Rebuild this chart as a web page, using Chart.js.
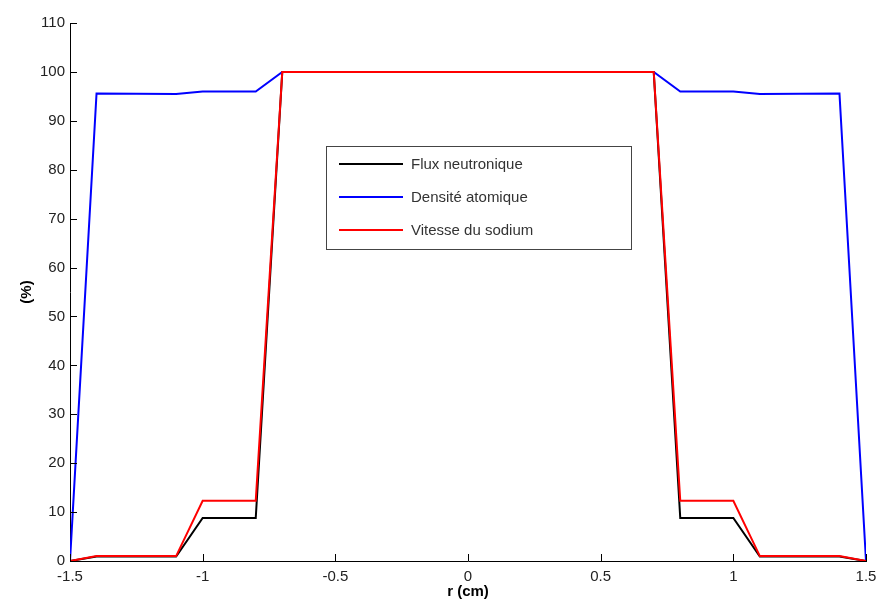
<!DOCTYPE html>
<html>
<head>
<meta charset="utf-8">
<script src="https://cdn.jsdelivr.net/npm/chart.js@4/dist/chart.umd.min.js"></script>
<style>
  html, body { margin: 0; padding: 0; background: #fff; }
  #wrap { width: 876px; height: 605px; }
</style>
</head>
<body>
<div id="wrap"><canvas id="chart" width="876" height="605"></canvas></div>
<script>
// radius positions (cm)
const rValues = [-1.5, -1.4, -1.1, -1.0, -0.8, -0.7, 0.7, 0.8, 1.0, 1.1, 1.4, 1.5];

// series (%)
const fluxNeutronique = [0, 0.9, 0.9, 8.8, 8.8, 100, 100, 8.8, 8.8, 0.9, 0.9, 0];
const densiteAtomique = [0, 95.6, 95.5, 96.0, 96.0, 100, 100, 96.0, 96.0, 95.5, 95.6, 0];
const vitesseSodium   = [0, 1.0, 1.0, 12.3, 12.3, 100, 100, 12.3, 12.3, 1.0, 1.0, 0];

const seriesLabels = ['Flux neutronique', 'Densité atomique', 'Vitesse du sodium'];
const seriesColors = ['#000000', '#0000ff', '#ff0000'];

const xTickValues = [-1.5, -1, -0.5, 0, 0.5, 1, 1.5];
const yTickValues = [0, 10, 20, 30, 40, 50, 60, 70, 80, 90, 100, 110];

const FONT = '"Liberation Sans", Arial, Helvetica, sans-serif';

function toPoints(ys) {
    return rValues.map((x, i) => ({ x: x, y: ys[i] }));
}

// inward ticks, axis titles and the boxed legend inside the plot
const matlabDecor = {
    id: 'matlabDecor',
    afterDraw(chart) {
        const ctx = chart.ctx;
        const xs = chart.scales.x;
        const ys = chart.scales.y;
        const area = chart.chartArea;

        ctx.save();
        ctx.strokeStyle = '#000';
        ctx.lineWidth = 1;
        ctx.beginPath();
        xTickValues.forEach(v => {
            const px = Math.round(xs.getPixelForValue(v)) + 0.5;
            ctx.moveTo(px, area.bottom);
            ctx.lineTo(px, area.bottom - 7);
        });
        yTickValues.forEach(v => {
            const py = Math.round(ys.getPixelForValue(v)) + 0.5;
            ctx.moveTo(area.left, py);
            ctx.lineTo(area.left + 7, py);
        });
        ctx.stroke();

        // axis titles
        ctx.fillStyle = '#000';
        ctx.font = 'bold 15px ' + FONT;
        ctx.textAlign = 'center';
        ctx.textBaseline = 'middle';
        ctx.fillText('r (cm)', (area.left + area.right) / 2, 592);
        ctx.save();
        ctx.translate(27, (area.top + area.bottom) / 2);
        ctx.rotate(-Math.PI / 2);
        ctx.fillText('(%)', 0, 0);
        ctx.restore();

        // legend box
        const lx = 326.5, ly = 146.5, lw = 305, lh = 103;
        ctx.fillStyle = '#fff';
        ctx.fillRect(lx, ly, lw, lh);
        ctx.strokeStyle = '#444';
        ctx.strokeRect(lx, ly, lw, lh);
        ctx.font = '15px ' + FONT;
        ctx.textAlign = 'left';
        chart.data.datasets.forEach((ds, i) => {
            const y = 164 + i * 33;
            ctx.strokeStyle = ds.borderColor;
            ctx.lineWidth = 2;
            ctx.beginPath();
            ctx.moveTo(339, y);
            ctx.lineTo(403, y);
            ctx.stroke();
            ctx.fillStyle = '#333';
            ctx.fillText(ds.label, 411, y + 1);
        });
        ctx.restore();
    }
};

const datasets = [fluxNeutronique, densiteAtomique, vitesseSodium].map((ys, i) => ({
    label: seriesLabels[i],
    data: toPoints(ys),
    borderColor: seriesColors[i],
    backgroundColor: seriesColors[i],
    borderWidth: 2,
    pointRadius: 0,
    tension: 0,
    fill: false,
    order: 2 - i   // red on top, black underneath
}));

new Chart(document.getElementById('chart').getContext('2d'), {
    type: 'line',
    data: { datasets: datasets },
    options: {
        responsive: false,
        animation: false,
        layout: { padding: { top: 23, right: 10, left: 0, bottom: 0 } },
        plugins: {
            legend: { display: false },
            tooltip: { enabled: false }
        },
        scales: {
            x: {
                type: 'linear',
                min: -1.5,
                max: 1.5,
                afterBuildTicks: s => { s.ticks = xTickValues.map(v => ({ value: v })); },
                afterFit: s => { s.height = 44; s.paddingLeft = 0; s.paddingRight = 0; },
                ticks: {
                    color: '#222',
                    font: { family: FONT, size: 15 },
                    padding: 7,
                    maxRotation: 0,
                    callback: v => String(v)
                },
                grid: { drawOnChartArea: false, drawTicks: false },
                border: { display: true, color: '#000', width: 1 }
            },
            y: {
                type: 'linear',
                min: 0,
                max: 110,
                afterBuildTicks: s => { s.ticks = yTickValues.map(v => ({ value: v })); },
                afterFit: s => { s.width = 70; s.paddingTop = 0; s.paddingBottom = 0; },
                ticks: {
                    color: '#222',
                    font: { family: FONT, size: 15 },
                    padding: 5,
                    callback: v => String(v)
                },
                grid: { drawOnChartArea: false, drawTicks: false },
                border: { display: true, color: '#000', width: 1 }
            }
        }
    },
    plugins: [matlabDecor]
});
</script>
</body>
</html>
